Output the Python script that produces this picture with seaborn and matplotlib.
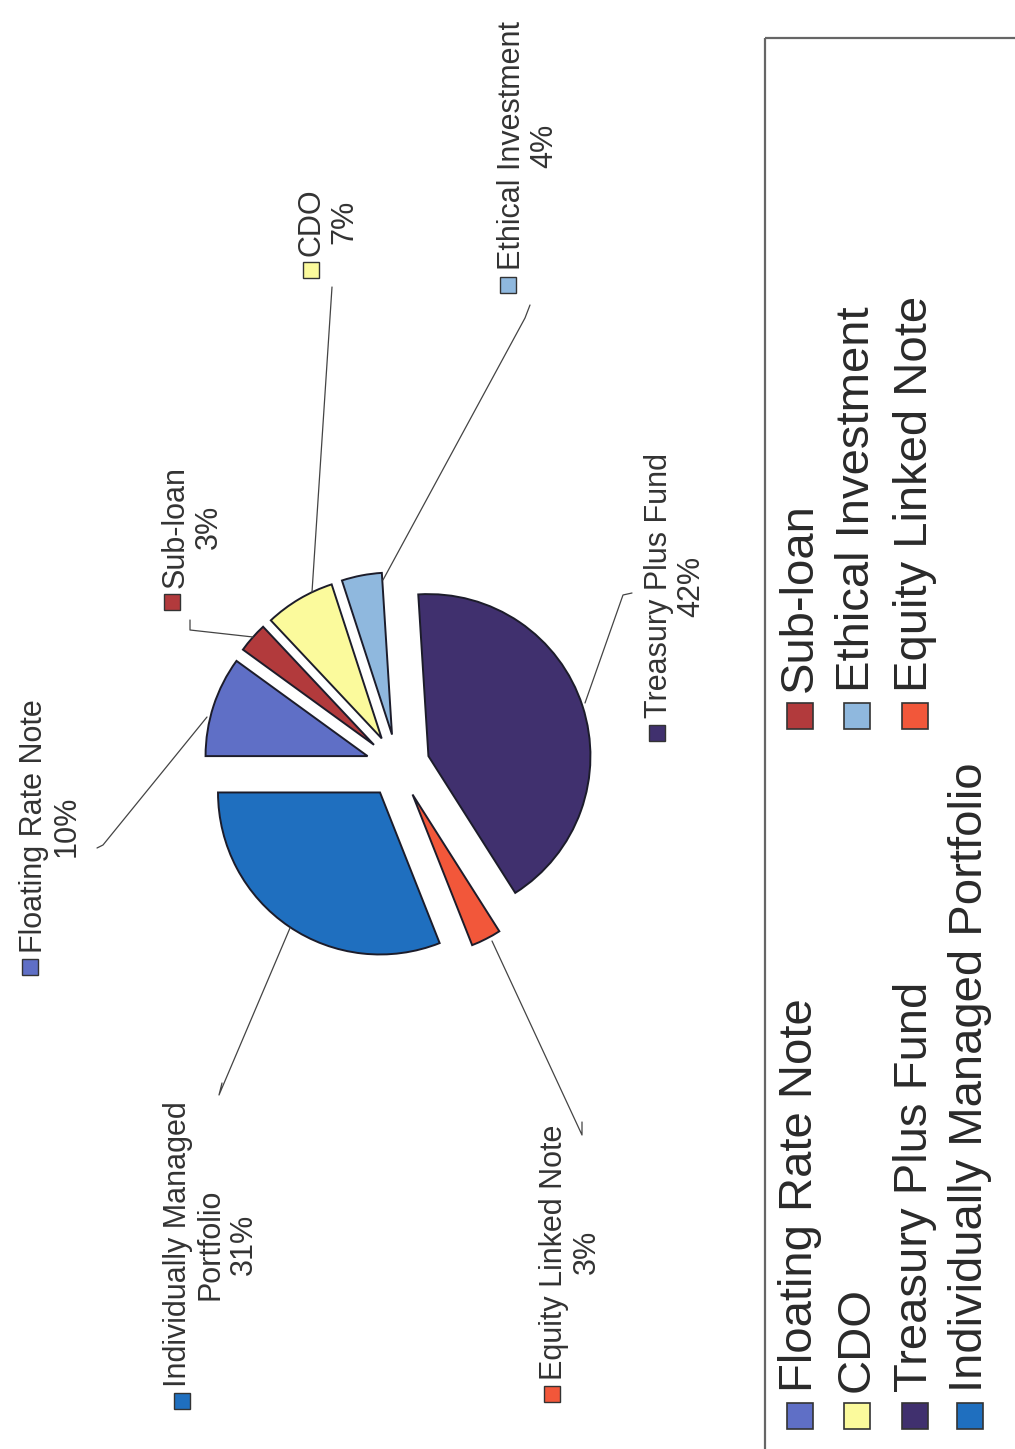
import matplotlib
matplotlib.use("Agg")
import matplotlib.pyplot as plt
import seaborn as sns
from matplotlib.patches import Rectangle

# data
categories = ["Floating Rate Note", "Sub-loan", "CDO", "Ethical Investment",
              "Treasury Plus Fund", "Equity Linked Note",
              "Individually Managed Portfolio"]
shares = [10, 3, 7, 4, 42, 3, 31]
pie_names = ["Floating Rate Note", "Sub-loan", "CDO", "Ethical Investment",
             "Treasury Plus Fund", "Equity Linked Note",
             "Individually Managed\nPortfolio"]
colors = ["#5f6fc6", "#b23a3c", "#fbfa9c", "#8fb8de",
          "#40306e", "#f2573a", "#1f6fbf"]

# whole chart is printed turned 90 degrees, so work in pixel coords
W, H = 1015, 1449
CENTER = (398, 766)
RADIUS = 162
EXPLODE = 32

# label block centre, x of the colour square, leader line (pixel coords)
label_pos = [(50, 826), (192, 527), (328, 222), (528, 146),
             (675, 586), (570, 1252), (211, 1244)]
square_x = [30, 172, 311, 508, 657, 552, 182]
leaders = [
    [(97, 848), (103, 845), (207, 717)],
    [(190, 620), (190, 630), (253, 637)],
    [(332, 287), (312, 592)],
    [(530, 305), (525, 318), (383, 580)],
    [(632, 593), (623, 595), (585, 703)],
    [(582, 1122), (582, 1135), (492, 941)],
    [(222, 1083), (219, 1095), (290, 928)],
]

sns.set_theme(style="white")
plt.rcParams['font.family'] = ['Liberation Sans', 'DejaVu Sans']

fig = plt.figure(figsize=(W / 100, H / 100), dpi=100)
ax = fig.add_axes([0, 0, 1, 1])

ax.pie(shares, colors=colors, startangle=180, counterclock=True,
       explode=[EXPLODE] * len(shares), radius=RADIUS, center=CENTER,
       wedgeprops=dict(edgecolor="#1c1c2a", linewidth=1.4))

ax.set_xlim(0, W)
ax.set_ylim(H, 0)
ax.set_aspect("equal")
ax.axis("off")

# data labels
texts = []
for name, val, (xc, yc), pts in zip(pie_names, shares, label_pos, leaders):
    t = ax.text(xc, yc, f"{name}\n{val}%", rotation=90, ha="center",
                va="center", multialignment="center", fontsize=22,
                color="#333333", linespacing=1.12)
    texts.append(t)
    ax.plot([p[0] for p in pts], [p[1] for p in pts], color="#444444", lw=0.9)

# colour square sits just before the start of each label's first line
fig.canvas.draw()
inv = ax.transData.inverted()
for t, xs, col in zip(texts, square_x, colors):
    bb = t.get_window_extent()
    (_, y0), (_, y1) = inv.transform([(bb.x0, bb.y0), (bb.x1, bb.y1)])
    ys = max(y0, y1) + 14
    ax.plot(xs, ys, marker="s", markersize=12, color=col,
            markeredgecolor="#333333", markeredgewidth=1.0)

# legend box
ax.add_patch(Rectangle((765, 38), 300, 1450, fill=False,
                       edgecolor="#666666", lw=1.6))
col1_x = [800, 857, 915, 970]
col2_x = [800, 857, 915]
slots = []
for i, x in enumerate(col1_x):
    slots.append((x, 1416))
    if i < len(col2_x):
        slots.append((col2_x[i], 716))
for (x, y), name, col in zip(slots, categories, colors):
    ax.plot(x, y, marker="s", markersize=19, color=col,
            markeredgecolor="#333333", markeredgewidth=1.2)
    ax.text(x, y - 24, name, rotation=90, ha="center", va="bottom",
            fontsize=34, color="#2a2a2a")

fig.savefig("out.png", dpi=100)
